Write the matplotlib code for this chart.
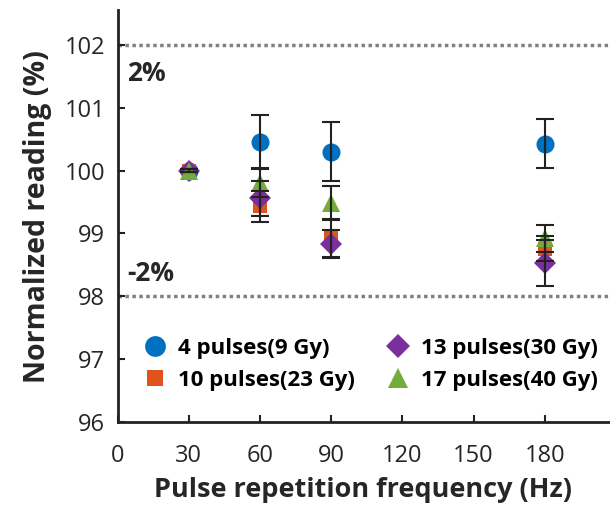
import matplotlib.pyplot as plt

freq = [30, 60, 90, 180]

labels = ['4 pulses(9 Gy)', '10 pulses(23 Gy)', '13 pulses(30 Gy)', '17 pulses(40 Gy)']
colors = ['#0070C0', '#E0531B', '#7B2F9E', '#72AC3A']
markers = ['o', 's', 'D', '^']
sizes = [13, 10, 11, 13]

reading = [
	[100.0, 100.46, 100.30, 100.43],	# 4 pulses
	[100.0, 99.43, 98.93, 98.76],		# 10 pulses
	[100.0, 99.56, 98.83, 98.53],		# 13 pulses
	[100.0, 99.80, 99.48, 98.92],		# 17 pulses
]
errors = [
	[0.02, 0.42, 0.47, 0.39],
	[0.02, 0.25, 0.30, 0.20],
	[0.02, 0.28, 0.22, 0.37],
	[0.02, 0.22, 0.27, 0.22],
]

def main():
	plt.rcParams['font.family'] = ['Open Sans', 'DejaVu Sans']

	fig = plt.figure(figsize=(6.1, 5.11), dpi=100)
	ax = fig.add_axes([0.193, 0.174, 0.805, 0.806])

	# limit lines at +/-2%
	ax.axhline(102, color='#808080', linestyle=(0, (1, 1)), linewidth=2.5, zorder=1)
	ax.axhline(98, color='#808080', linestyle=(0, (1, 1)), linewidth=2.5, zorder=1)
	ax.text(4, 101.55, '2%', fontsize=19, fontweight='bold', color='#262626', va='center')
	ax.text(4, 98.37, '-2%', fontsize=19, fontweight='bold', color='#262626', va='center')

	handles = []
	for i in range(len(labels)):
		h, = ax.plot(freq, reading[i], linestyle='none', marker=markers[i], markersize=sizes[i],
			color=colors[i], markeredgewidth=0, label=labels[i], zorder=2 + i)
		handles.append(h)
		ax.errorbar(freq, reading[i], yerr=errors[i], fmt='none', ecolor='#222222',
			elinewidth=1.5, capsize=6.5, capthick=1.5, zorder=7)

	ax.set_xlim(0, 207)
	ax.set_ylim(96, 102.55)
	ax.set_xticks([0, 30, 60, 90, 120, 150, 180])
	ax.set_yticks([96, 97, 98, 99, 100, 101, 102])
	ax.tick_params(direction='in', length=5, width=1.5, labelsize=17, colors='#222222')
	ax.tick_params(axis='x', pad=16)
	ax.tick_params(axis='y', pad=9)
	for lab in ax.get_xticklabels() + ax.get_yticklabels():
		lab.set_color('#262626')
	for s in ['top', 'right']:
		ax.spines[s].set_visible(False)
	for s in ['left', 'bottom']:
		ax.spines[s].set_linewidth(2)
		ax.spines[s].set_color('#222222')

	ax.set_xlabel('Pulse repetition frequency (Hz)', fontsize=19.5, fontweight='bold', color='#262626', labelpad=6)
	ax.set_ylabel('Normalized reading (%)', fontsize=20.5, fontweight='bold', color='#262626', labelpad=9)

	ax.legend(handles=handles, ncol=2, frameon=False, loc='center',
		bbox_to_anchor=(0.51, 0.14), handletextpad=0.3, columnspacing=1.2, labelspacing=0.5,
		handlelength=1.5, markerscale=1.15, prop={'weight': 'bold', 'size': 16})

	plt.savefig('out.png', dpi=100)

if __name__ == '__main__':
	main()
